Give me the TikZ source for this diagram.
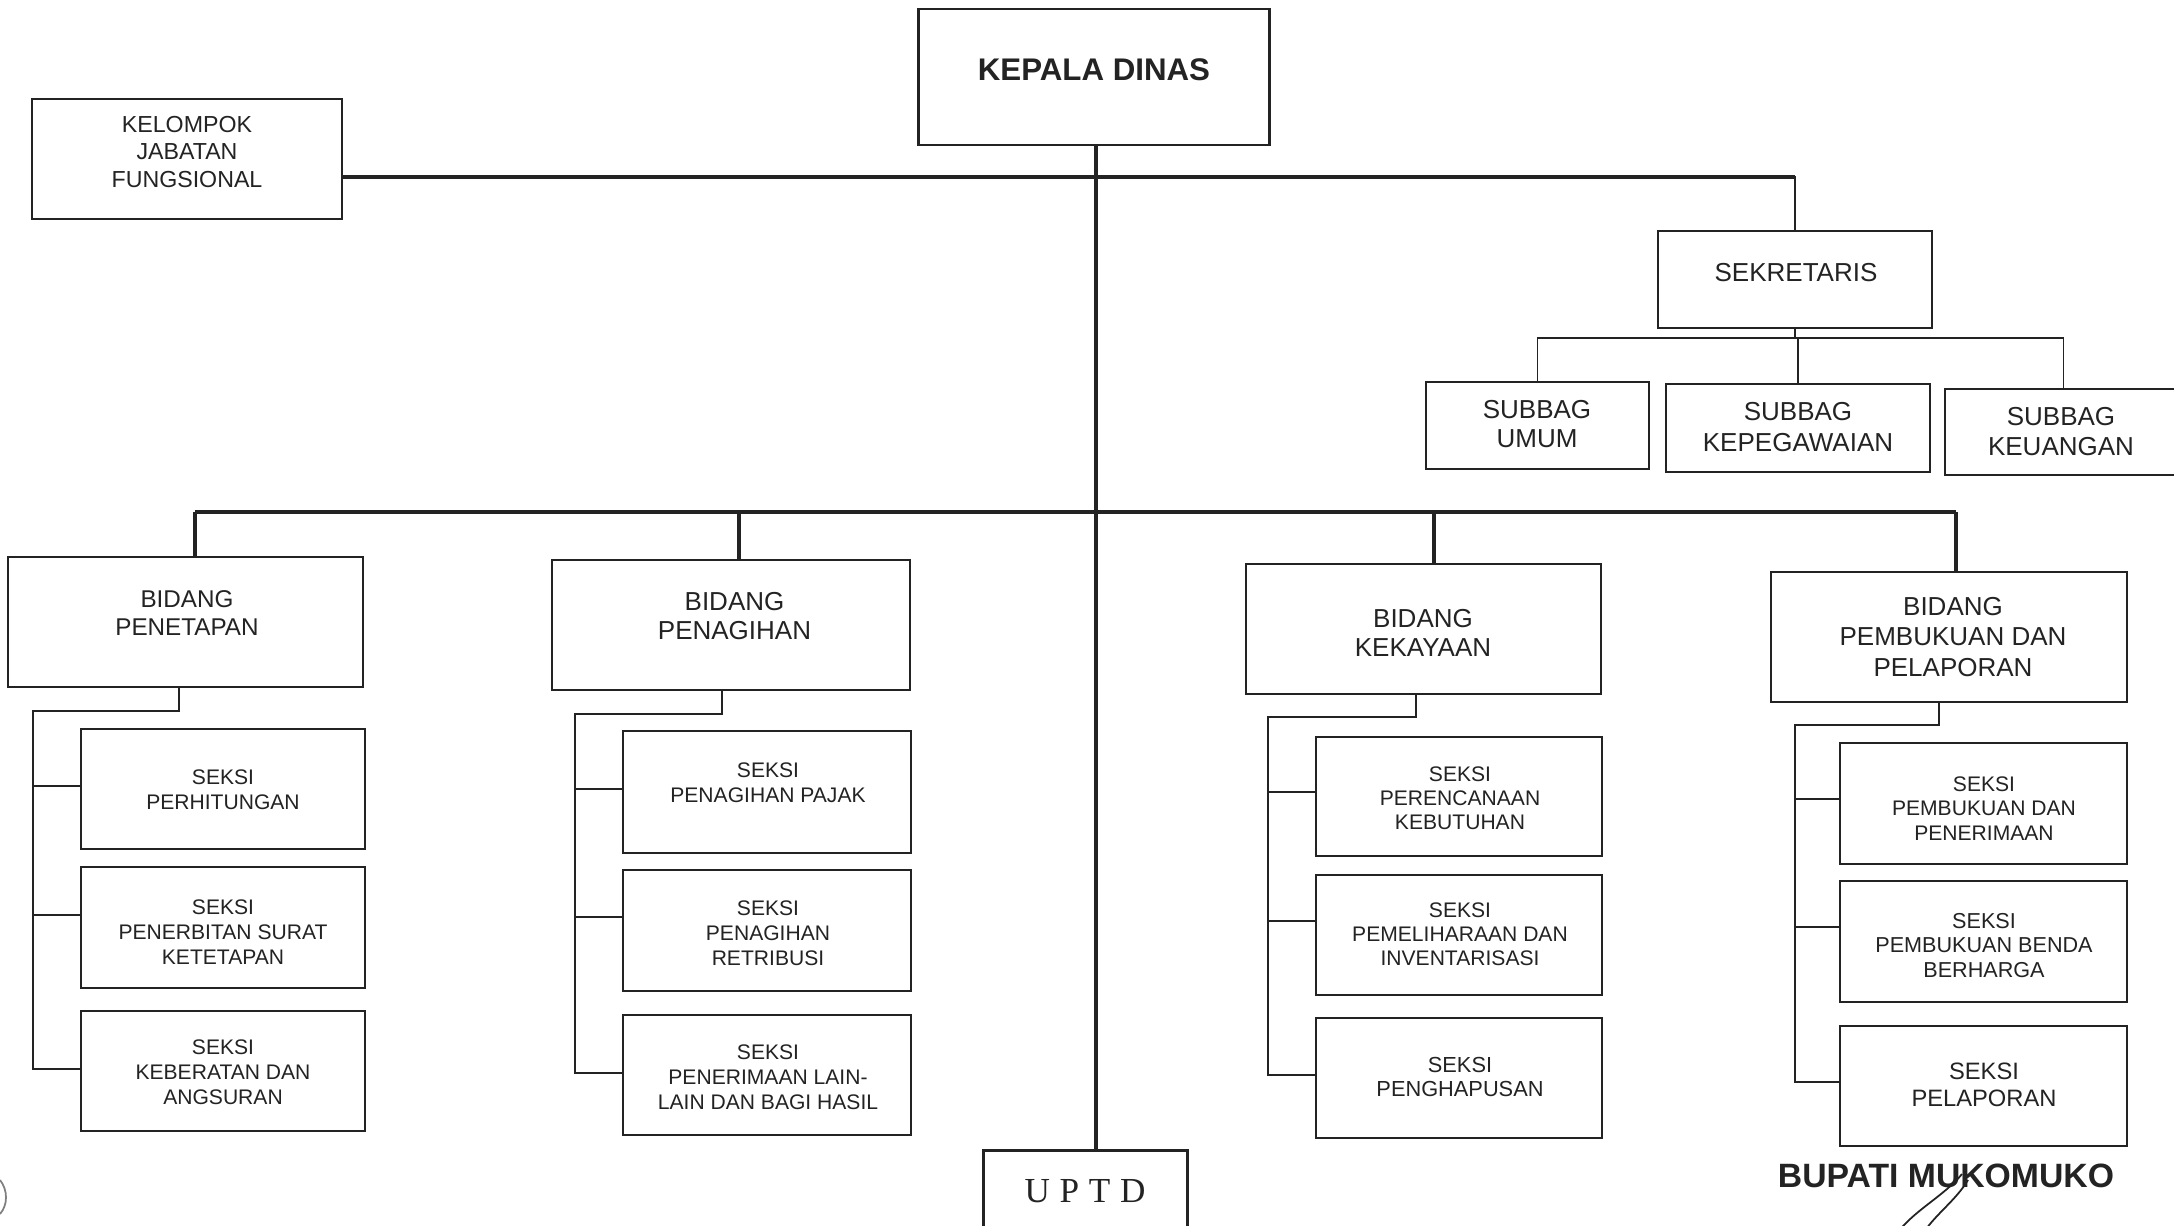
\documentclass[tikz,border=0pt]{standalone}
\usepackage{fontspec}
\setmainfont{Liberation Sans}
\newfontfamily\serifuptd{Liberation Serif}
\usetikzlibrary{fit}
\definecolor{ink}{RGB}{35,35,35}
\newcommand\fz[2]{\fontsize{#1pt}{#2pt}\selectfont}
\newcommand\bx[6]{\node[#6, fit={(#2,#3) (#4,#5)}] (#1) {};}
\newcommand\tx[5]{\node[txt, font=#4] (#1) at (#2,#3) {#5};}
\begin{document}
\begin{tikzpicture}[x=0.02cm,y=-0.02cm,
  box/.style={draw=ink, line width=1.1pt, inner sep=0pt, rectangle},
  kbox/.style={box, line width=1.7pt},
  txt/.style={text=ink, align=center, inner sep=0pt},
  thk/.style={draw=ink, line width=2.7pt},
  med/.style={draw=ink, line width=2pt},
  thn/.style={draw=ink, line width=1.1pt}]
\useasboundingbox (0,0) rectangle (2174,1226);
\fill[white] (0,0) rectangle (2174,1226);
\clip (0,0) rectangle (2174,1226);

% ---- boxes
\bx{kepala}{918}{9}{1269}{145}{kbox}
\bx{kel}{32}{99}{342}{219}{box}
\bx{sek}{1658}{231}{1932}{328}{box}
\bx{umum}{1426}{382}{1649}{469}{box}
\bx{kepeg}{1666}{384}{1930}{472}{box}
\bx{keu}{1945}{389}{2182}{475}{box}
\bx{pen}{8}{557}{363}{687}{box}
\bx{pgh}{552}{560}{910}{690}{box}
\bx{kek}{1246}{564}{1601}{694}{box}
\bx{pbk}{1771}{572}{2127}{702}{box}
\bx{s11}{81}{729}{365}{849}{box}
\bx{s12}{81}{867}{365}{988}{box}
\bx{s13}{81}{1011}{365}{1131}{box}
\bx{s21}{623}{731}{911}{853}{box}
\bx{s22}{623}{870}{911}{991}{box}
\bx{s23}{623}{1015}{911}{1135}{box}
\bx{s31}{1316}{737}{1602}{856}{box}
\bx{s32}{1316}{875}{1602}{995}{box}
\bx{s33}{1316}{1018}{1602}{1138}{box}
\bx{s41}{1840}{743}{2127}{864}{box}
\bx{s42}{1840}{881}{2127}{1002}{box}
\bx{s43}{1840}{1026}{2127}{1146}{box}
\bx{uptd}{983}{1150}{1187}{1240}{kbox}

% ---- texts
\tx{kepala-t}{1094}{70}{\fz{17.8}{20}\bfseries}{KEPALA DINAS}
\tx{kel-t}{187}{152}{\fz{13.2}{15.4}}{KELOMPOK\\JABATAN\\FUNGSIONAL}
\tx{sek-t}{1796}{273}{\fz{14.8}{17}}{SEKRETARIS}
\tx{umum-t}{1537}{424}{\fz{14.8}{17}}{SUBBAG\\UMUM}
\tx{kepeg-t}{1798}{427}{\fz{14.8}{17.5}}{SUBBAG\\KEPEGAWAIAN}
\tx{keu-t}{2061}{431.5}{\fz{14.8}{16.6}}{SUBBAG\\KEUANGAN}
\tx{pen-t}{187}{613}{\fz{13.8}{16}}{BIDANG\\PENETAPAN}
\tx{pgh-t}{734.5}{616}{\fz{14.8}{17}}{BIDANG\\PENAGIHAN}
\tx{kek-t}{1423}{632.5}{\fz{14.8}{16.5}}{BIDANG\\KEKAYAAN}
\tx{pbk-t}{1953}{637}{\fz{14.8}{17.4}}{BIDANG\\PEMBUKUAN DAN\\PELAPORAN}
\tx{s11-t}{223}{790}{\fz{12}{14}}{SEKSI\\PERHITUNGAN}
\tx{s12-t}{223}{932}{\fz{12}{14.2}}{SEKSI\\PENERBITAN SURAT\\KETETAPAN}
\tx{s13-t}{223}{1072}{\fz{12}{14.2}}{SEKSI\\KEBERATAN DAN\\ANGSURAN}
\tx{s21-t}{768}{782.5}{\fz{12}{14.2}}{SEKSI\\PENAGIHAN PAJAK}
\tx{s22-t}{768}{933.5}{\fz{12}{14.2}}{SEKSI\\PENAGIHAN\\RETRIBUSI}
\tx{s23-t}{768}{1077}{\fz{12}{14.2}}{SEKSI\\PENERIMAAN LAIN-\\LAIN DAN BAGI HASIL}
\tx{s31-t}{1460}{798}{\fz{12}{13.7}}{SEKSI\\PERENCANAAN\\KEBUTUHAN}
\tx{s32-t}{1460}{934}{\fz{12}{13.7}}{SEKSI\\PEMELIHARAAN DAN\\INVENTARISASI}
\tx{s33-t}{1460}{1077}{\fz{12.4}{13.7}}{SEKSI\\PENGHAPUSAN}
\tx{s41-t}{1984}{808.5}{\fz{12}{14}}{SEKSI\\PEMBUKUAN DAN\\PENERIMAAN}
\tx{s42-t}{1984}{945.5}{\fz{12.3}{14}}{SEKSI\\PEMBUKUAN BENDA\\BERHARGA}
\tx{s43-t}{1984}{1085}{\fz{13.5}{15.6}}{SEKSI\\PELAPORAN}
\tx{uptd-t}{1085}{1191.5}{\fz{20}{24}\serifuptd\color{ink!85}}{U\kern5.5pt P\kern5.5pt T\kern5.5pt D}
\tx{bup-t}{1946}{1176}{\fz{19.2}{23}\bfseries\color{ink!90}}{BUPATI MUKOMUKO}

% ---- connector coordinates
\coordinate (tr) at (1096,0);
\coordinate (l1) at (0,177);
\coordinate (l2) at (0,338);
\coordinate (d1) at (195,512);
\coordinate (d2) at (739,512);
\coordinate (d3) at (1434,512);
\coordinate (d4) at (1956,512);
\coordinate (j1) at (179,711);
\coordinate (j2) at (722,714);
\coordinate (j3) at (1416,717);
\coordinate (j4) at (1939,725);
\coordinate (k1) at (33,0);
\coordinate (k2) at (575,0);
\coordinate (k3) at (1268,0);
\coordinate (k4) at (1795,0);

% ---- main connectors
\draw[thk] (kepala.south -| tr) -- (uptd.north -| tr);
\draw[thk] (kel.east |- l1) -- (sek.north |- l1);
\draw[thn] ([yshift=0.6pt]sek.north |- l1) -- (sek.north);
\draw[thn] (sek.south) -- (sek.south |- l2);
\draw[thn] (umum.north) -- (umum.north |- l2) -- (keu.north |- l2) -- (keu.north);
\draw[thn] (kepeg.north |- l2) -- (kepeg.north);
\draw[thk] (d1) -- (d4);
\draw[med] (d1) -- (d1 |- pen.north);
\draw[med] (d2) -- (d2 |- pgh.north);
\draw[med] (d3) -- (d3 |- kek.north);
\draw[med] (d4) -- (d4 |- pbk.north);

% ---- seksi brackets
\draw[thn] (pen.south -| j1) -- (j1) -- (j1 -| k1) -- (k1 |- 0,1069) -- (s13.west |- 0,1069);
\draw[thn] (k1 |- 0,786) -- (s11.west |- 0,786);
\draw[thn] (k1 |- 0,915) -- (s12.west |- 0,915);

\draw[thn] (pgh.south -| j2) -- (j2) -- (j2 -| k2) -- (k2 |- 0,1073) -- (s23.west |- 0,1073);
\draw[thn] (k2 |- 0,789) -- (s21.west |- 0,789);
\draw[thn] (k2 |- 0,917) -- (s22.west |- 0,917);

\draw[thn] (kek.south -| j3) -- (j3) -- (j3 -| k3) -- (k3 |- 0,1075) -- (s33.west |- 0,1075);
\draw[thn] (k3 |- 0,792) -- (s31.west |- 0,792);
\draw[thn] (k3 |- 0,921) -- (s32.west |- 0,921);

\draw[thn] (pbk.south -| j4) -- (j4) -- (j4 -| k4) -- (k4 |- 0,1082) -- (s43.west |- 0,1082);
\draw[thn] (k4 |- 0,799) -- (s41.west |- 0,799);
\draw[thn] (k4 |- 0,927) -- (s42.west |- 0,927);

% ---- signature strokes and margin mark
\draw[ink, line width=1pt] (1962,1174) .. controls (1945,1195) and (1915,1210) .. (1898,1232);
\draw[ink, line width=1pt] (1968,1180) .. controls (1956,1200) and (1936,1214) .. (1924,1232);
\draw[gray, line width=1pt] (0,1180) .. controls (8,1190) and (8,1205) .. (0,1214);
\end{tikzpicture}
\end{document}
